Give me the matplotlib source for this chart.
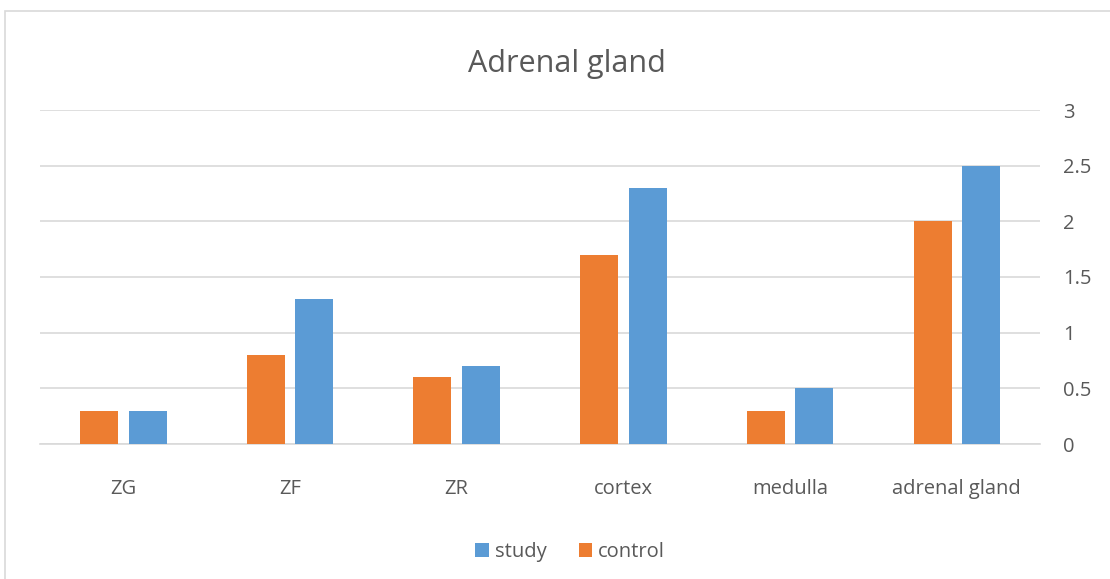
import numpy as np
import matplotlib.pyplot as plt
from matplotlib.patches import Rectangle

categories = ['ZG', 'ZF', 'ZR', 'cortex', 'medulla', 'adrenal gland']
control = [0.3, 0.8, 0.6, 1.7, 0.3, 2.0]
study = [0.3, 1.3, 0.7, 2.3, 0.5, 2.5]
yticks = [0, 0.5, 1, 1.5, 2, 2.5, 3]

plt.rcParams['font.family'] = ['Open Sans', 'DejaVu Sans']
txt = '#595959'
grid = '#d9d9d9'

fig = plt.figure(figsize=(11.1, 5.79), dpi=100)
# chart border (light frame like the office chart)
fig.patches.append(Rectangle((5 / 1110, -0.01), 1.2, 1 - 11 / 579 + 0.01,
                             transform=fig.transFigure, fill=False,
                             edgecolor='#d9d9d9', linewidth=1.2))

ax = fig.add_axes([40 / 1110, 1 - 444 / 579, 1000 / 1110, 334 / 579])
x = np.arange(len(categories))
w = 0.228
ax.bar(x - 0.145, control, width=w, color='#ed7d31', label='control', zorder=3)
ax.bar(x + 0.145, study, width=w, color='#5b9bd5', label='study', zorder=3)

ax.set_xlim(-0.5, len(categories) - 0.5)
ax.set_ylim(0, 3)
ax.set_yticks(yticks)
ax.set_yticklabels(['0', '0.5', '1', '1.5', '2', '2.5', '3'])
ax.yaxis.tick_right()
ax.set_xticks(x)
ax.set_xticklabels(categories)
ax.tick_params(axis='both', length=0, labelsize=14.5, labelcolor=txt)
ax.tick_params(axis='x', pad=25)
ax.tick_params(axis='y', pad=16.5)
ax.grid(axis='y', color=grid, linewidth=1.2, zorder=0)
for s in ['top', 'left', 'right']:
    ax.spines[s].set_visible(False)
ax.spines['bottom'].set_color(grid)
ax.spines['bottom'].set_linewidth(1.2)

fig.text(567 / 1110, 1 - 64 / 579, 'Adrenal gland', ha='center', va='center',
         fontsize=22, color=txt)

h, l = ax.get_legend_handles_labels()
fig.legend(h[::-1], l[::-1], loc='center', bbox_to_anchor=(570 / 1110, 1 - 552 / 579),
           ncol=2, frameon=False, fontsize=14.5, labelcolor=txt,
           handlelength=0.65, handleheight=0.65, handletextpad=0.3, columnspacing=1.6)

fig.savefig('out.png', dpi=100)
